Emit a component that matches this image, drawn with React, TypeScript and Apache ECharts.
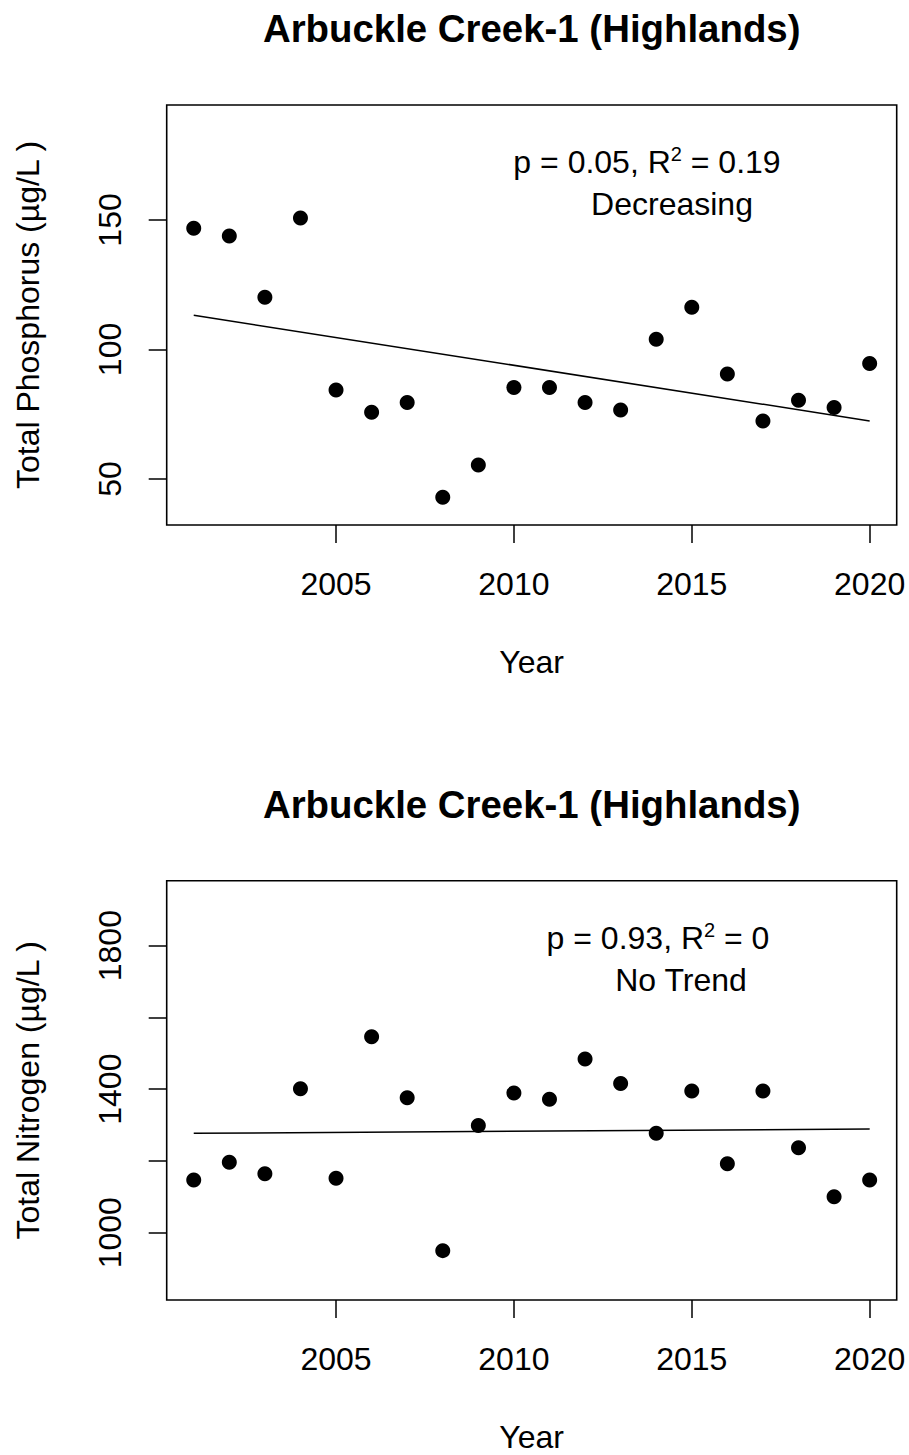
import React, { useEffect, useRef } from "react";
import * as echarts from "echarts";

const years = [2001, 2002, 2003, 2004, 2005, 2006, 2007, 2008, 2009, 2010, 2011, 2012, 2013, 2014, 2015, 2016, 2017, 2018, 2019, 2020];
const phosphorus = [146.8, 143.8, 120.2, 150.8, 84.3, 75.7, 79.5, 42.9, 55.4, 85.3, 85.3, 79.5, 76.6, 103.9, 116.3, 90.5, 72.4, 80.4, 77.6, 94.6];
const nitrogen = [1147, 1196, 1164, 1401, 1152, 1546, 1376, 950, 1299, 1389, 1372, 1484, 1416, 1277, 1395, 1192, 1395, 1237, 1100, 1147];
const trendYears = [2001, 2020];
const phosphorusTrend = [113.2, 72.4];
const nitrogenTrend = [1277, 1289];
const xTicks = [2005, 2010, 2015, 2020];
const tpTicks = [50, 100, 150];
const tnTicks = [1000, 1200, 1400, 1600, 1800];
const tnLabels = [1000, 1400, 1800];
const chartTitle = "Arbuckle Creek-1 (Highlands)";

const FONT = "'Liberation Sans', Arial, sans-serif";
const INK = "#000";

export default function App() {
  const ref = useRef<HTMLDivElement>(null);
  useEffect(() => {
    if (!ref.current) return;
    const chart = echarts.init(ref.current, undefined, { renderer: "svg" });
    const gridL = 166.7, gridW = 730;
    const grids = [
      { left: gridL, top: 105, width: gridW, height: 420 },
      { left: gridL, top: 880.7, width: gridW, height: 419.3 },
    ];
    const plain = (v: number) => String(v);
    const mkX = (i: number) => ({
      gridIndex: i,
      type: "value",
      min: 2000.24,
      max: 2020.76,
      axisLine: { show: false },
      splitLine: { show: false },
      axisTick: { show: true, inside: false, length: 18, lineStyle: { color: INK, width: 1.5 }, customValues: xTicks },
      axisLabel: { customValues: xTicks, formatter: plain, margin: 43, fontSize: 32, fontFamily: FONT, color: INK },
      name: "Year",
      nameLocation: "middle",
      nameGap: 121,
      nameTextStyle: { fontSize: 32, fontFamily: FONT, color: INK },
    });
    const mkY = (i: number, min: number, max: number, ticks: number[], labels: number[], name: string) => ({
      gridIndex: i,
      type: "value",
      min,
      max,
      axisLine: { show: false },
      splitLine: { show: false },
      axisTick: { show: true, inside: false, length: 18, lineStyle: { color: INK, width: 1.5 }, customValues: ticks },
      axisLabel: { customValues: labels, formatter: plain, rotate: 90, margin: 41, fontSize: 32, fontFamily: FONT, color: INK },
      name,
      nameLocation: "middle",
      nameRotate: 90,
      nameGap: 123,
      nameTextStyle: { fontSize: 32, fontFamily: FONT, color: INK },
    });
    const titleText = (y: number) => ({
      type: "text",
      x: gridL + gridW / 2,
      y,
      style: {
        text: chartTitle,
        fontSize: 38.4,
        fontWeight: "bold",
        fontFamily: FONT,
        fill: INK,
        align: "center",
        verticalAlign: "middle",
        textAlign: "center",
        textVerticalAlign: "middle",
      },
    });
    const richStyle = {
      n: { fontSize: 32, fontFamily: FONT, color: INK, lineHeight: 36 },
      s: { fontSize: 20, fontFamily: FONT, color: INK, verticalAlign: "top", lineHeight: 20 },
    };
    const annot = (x: number, y: number, text: string) => ({
      type: "text",
      x,
      y,
      style: {
        text,
        rich: richStyle,
        fontSize: 32,
        fontFamily: FONT,
        fill: INK,
        align: "center",
        verticalAlign: "middle",
        textAlign: "center",
        textVerticalAlign: "middle",
      },
    });
    const dot = { color: INK, opacity: 1 };
    chart.setOption({
      animation: false,
      backgroundColor: "#fff",
      grid: grids.map((g) => ({ ...g, show: true, borderColor: INK, borderWidth: 1.6, backgroundColor: "transparent", containLabel: false })),
      xAxis: [mkX(0), mkX(1)],
      yAxis: [
        mkY(0, 32.2, 194.4, tpTicks, tpTicks, "Total Phosphorus (µg/L )"),
        mkY(1, 812.4, 1981, tnTicks, tnLabels, "Total Nitrogen (µg/L )"),
      ],
      series: [
        {
          type: "scatter",
          xAxisIndex: 0,
          yAxisIndex: 0,
          symbol: "circle",
          symbolSize: 15,
          itemStyle: dot,
          data: years.map((y, i) => [y, phosphorus[i]]),
        },
        {
          type: "line",
          xAxisIndex: 0,
          yAxisIndex: 0,
          showSymbol: false,
          symbol: "none",
          lineStyle: { color: INK, width: 1.5 },
          data: trendYears.map((y, i) => [y, phosphorusTrend[i]]),
        },
        {
          type: "scatter",
          xAxisIndex: 1,
          yAxisIndex: 1,
          symbol: "circle",
          symbolSize: 15,
          itemStyle: dot,
          data: years.map((y, i) => [y, nitrogen[i]]),
        },
        {
          type: "line",
          xAxisIndex: 1,
          yAxisIndex: 1,
          showSymbol: false,
          symbol: "none",
          lineStyle: { color: INK, width: 1.5 },
          data: trendYears.map((y, i) => [y, nitrogenTrend[i]]),
        },
      ],
      graphic: [
        titleText(28),
        titleText(804),
        annot(647, 162, "{n|p = 0.05, R}{s|2}{n| = 0.19}"),
        annot(672, 204, "{n|Decreasing}"),
        annot(658, 938, "{n|p = 0.93, R}{s|2}{n| = 0}"),
        annot(681, 980, "{n|No Trend}"),
      ],
    });
    return () => chart.dispose();
  }, []);
  return (
    <div
      ref={ref}
      style={{ position: "absolute", left: 0, top: 0, width: 909, height: 1455 }}
    />
  );
}
